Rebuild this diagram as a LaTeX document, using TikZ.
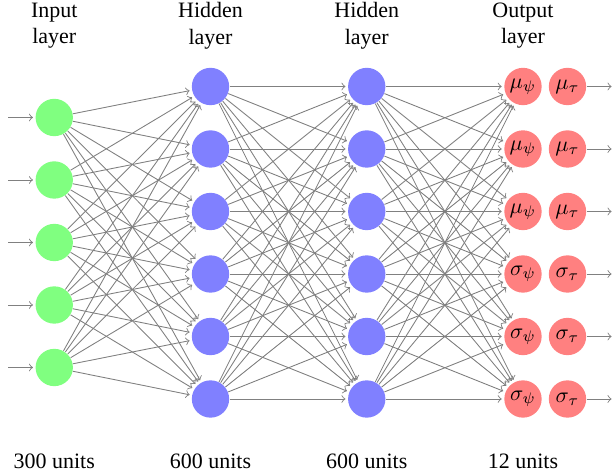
\documentclass[tikz,border=0pt]{standalone}
\usepackage{fontspec}
\setmainfont{Liberation Serif}
\usetikzlibrary{positioning}

\begin{document}
\begin{tikzpicture}[shorten >=1pt,node distance=1cm,on grid,
    unit/.style={circle,minimum size=17pt,inner sep=0pt},
    inunit/.style={unit,fill=green!50},
    hidunit/.style={unit,fill=blue!50},
    outunit/.style={unit,fill=red!50},
    link/.style={->,draw=black!50},
    annot/.style={align=center}]
      \useasboundingbox (0,0) rectangle (9.792,-7.6);

      % input layer
      \foreach \y in {1,...,5} {
        \node[inunit] (i_\y) at (0.868,-0.88-\y) {};
        \coordinate (src_\y) at (0.128,-0.88-\y);
      }

      % hidden layers
      \foreach \y in {1,...,6} {
        \node[hidunit] (h_\y) at (3.368,-0.384-\y) {};
        \node[hidunit] (g_\y) [right=2.5cm of h_\y] {};
      }

      % output layer
      \foreach \v [count=\y] in {\mu,\mu,\mu,\sigma,\sigma,\sigma} {
        \node[outunit] (o_\y) [right=2.5cm of g_\y] {$\v_\psi$};
        \node[outunit] (t_\y) [right=0.712cm of o_\y] {$\v_\tau$};
        \coordinate (dst_\y) at (9.82,-0.384-\y);
      }

      \node[annot] (l_h) [above=0.97cm of h_1] {Hidden\\layer};
      \node[annot] (l_i) [left=2.5cm of l_h] {Input\\layer};
      \node[annot] (l_g) [right=2.5cm of l_h] {Hidden\\layer};
      \node[annot] (l_o) [right=2.5cm of l_g] {Output\\layer};

      \node (n_h) [below=of h_6] {600 units};
      \node (n_i) [left=2.5cm of n_h] {300 units};
      \node (n_g) [right=2.5cm of n_h] {600 units};
      \node (n_o) [right=2.5cm of n_g] {12 units};

      \foreach \a in {1,...,5}
        \path (src_\a) edge[link] (i_\a);
      \foreach \a in {1,...,5}
        \foreach \b in {1,...,6}
          \path (i_\a) edge[link] (h_\b);
      \foreach \a in {1,...,6}
        \foreach \b in {1,...,6} {
          \path (h_\a) edge[link] (g_\b)
                (g_\a) edge[link] (o_\b);
        }
      \foreach \a in {1,...,6}
        \path (t_\a) edge[link] (dst_\a);
    \end{tikzpicture}
\end{document}
